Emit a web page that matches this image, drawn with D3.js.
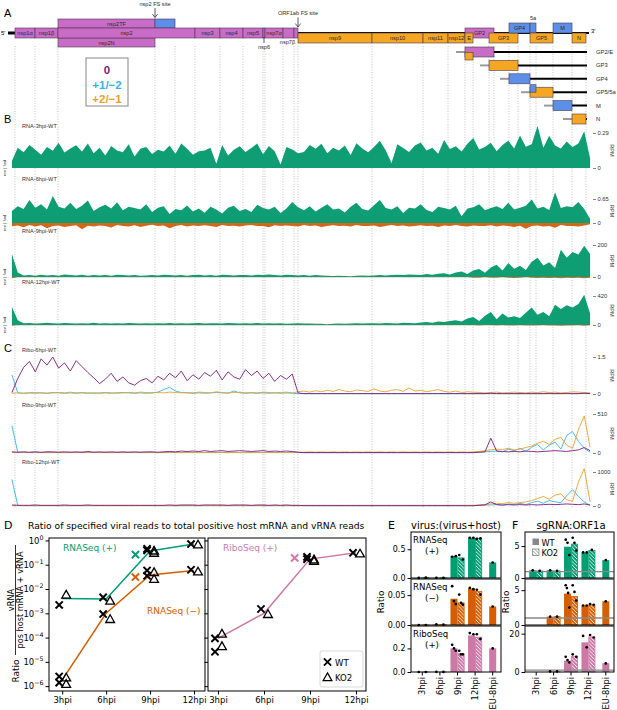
<!DOCTYPE html>
<html>
<head>
<meta charset="utf-8">
<script src="https://cdn.jsdelivr.net/npm/d3@7"></script>
<style>
  body { margin: 0; background: #fff; }
  svg { display: block; }
</style>
</head>
<body>
<svg id="fig" width="617" height="710"></svg>
<script>
const SANS = 'Liberation Sans, Arial, Helvetica, sans-serif';
const MPL = 'DejaVu Sans, sans-serif';

const GREEN = '#009E73', ORANGE = '#D55E00', PINK = '#CC79A7';
const TRACK_GREEN = '#0F9E74', TRACK_REV = '#D2661B';
const F0 = '#7B1C7E', F1 = '#38B2E6', F2 = '#EAA229';
const BOX = { 0: '#C96CC8', 1: '#5D8FE9', 2: '#F5A623' };

// ---------------- genome map data (nt) ----------------
const genomeLength = 15000;
const binSize = 150;

const orf1aNames = ['nsp1α', 'nsp1β', 'nsp2', 'nsp3', 'nsp4', 'nsp5', 'nsp6', 'nsp7α', 'nsp7β', 'nsp8'];
const orf1aStarts = [154, 668, 1258, 4777, 5419, 6010, 6524, 6575, 7038, 7320];
const orf1aEnds = [668, 1258, 4777, 5419, 6010, 6524, 6575, 7038, 7320, 7423];

const nsp2Start = 1258, nsp2FsSite = 3750, nsp2TfEnd = 4264;

const orf1bNames = ['nsp9', 'nsp10', 'nsp11', 'nsp12'];
const orf1bStarts = [7423, 9324, 10634, 11276];
const orf1bEnds = [9324, 10634, 11276, 11712];

const sorfNames = ['GP2', 'E', 'GP3', 'GP4', '5a', 'GP5', 'M', 'N'];
const sorfFrames = [0, 2, 2, 1, 1, 2, 1, 2];
const sorfStarts = [11712, 11712, 12329, 12842, 13382, 13382, 13973, 14461];
const sorfEnds = [12457, 11918, 13074, 13382, 13536, 13973, 14461, 14820];

const sgNames = ['GP2/E', 'GP3', 'GP4', 'GP5/5a', 'M', 'N'];
const sgJunctions = [11712, 12329, 12842, 13382, 13973, 14461];
const sgOrfs = [['GP2', 'E'], ['GP3'], ['GP4'], ['GP5', '5a'], ['M'], ['N']];

// ---------------- coverage (percent of labelled axis max, 150-nt bins) ----------------
const rnaLabels = ['RNA-3hpi-WT', 'RNA-6hpi-WT', 'RNA-9hpi-WT', 'RNA-12hpi-WT'];
const rnaMax = [0.29, 0.65, 200, 420];

const rna3hpiFwd = [20,58,45,66,52,38,60,49,72,44, 56,65,47,70,42,58,36,63,50,45,
  68,33,55,60,40,52,47,64,41,70, 55,38,48,50,58,12,66,36,52,62, 46,57,70,39,63,48,10,60,53,42,
  46,66,55,69,42,58,50,64,37,71, 56,45,60,78,51,14,68,57,46,64, 73,50,58,41,80,54,62,47,69,86,
  53,60,72,48,66,78,56,93,61,68, 120,58,92,64,56,76,60,70,105,28];
const rna6hpiFwd = [50,70,58,96,64,78,56,112,68,60, 84,58,72,94,50,66,76,60,86,53,
  68,62,56,78,46,64,70,38,58,53, 73,48,60,43,68,56,40,64,72,50, 58,46,76,62,56,68,42,60,88,66,
  53,70,48,64,78,56,60,44,68,84, 58,52,74,96,62,56,70,42,64,60, 78,54,46,68,62,56,72,28,60,66,
  78,53,62,70,58,84,56,64,72,98, 60,68,54,128,62,70,66,88,58,18];
const rna6hpiRev = [14,10,18,8,15,9,22,12,10,17, 13,9,26,11,15,10,13,19,8,12,
  15,9,17,11,7,13,10,22,12,8, 15,10,13,9,12,17,8,13,11,15, 10,8,13,12,18,9,13,10,12,15,
  8,13,10,17,12,9,13,11,15,8, 12,13,10,17,12,8,13,10,15,12, 9,13,11,17,10,13,8,12,15,10,
  13,12,9,15,10,13,17,11,24,13, 10,15,12,20,8,13,12,15,10,5];
const rna9hpiFwd = [72,14,5,6,4,7,5,6,4,8, 6,5,7,4,6,5,6,4,7,6,
  5,6,4,5,6,5,7,6,5,6, 4,6,7,5,6,4,7,6,5,6, 6,5,7,6,8,6,5,7,6,5,
  6,4,6,5,4,3,4,3,2,4, 5,4,5,6,5,6,7,6,8,7, 6,9,7,10,12,8,14,17,9,20,
  25,13,30,38,20,44,26,35,22,48, 60,36,46,28,85,60,78,70,98,72];
const rna9hpiRev = [4,1,1,1,1,1,1,1,1,1, 1,1,1,1,1,1,1,1,1,1,
  1,1,1,1,1,1,1,1,1,1, 1,1,1,1,1,1,1,1,1,1, 1,1,1,1,1,1,1,1,1,1,
  1,1,1,1,1,1,1,1,1,1, 1,1,1,1,1,1,1,1,1,1, 1,1,1,1,1,1,1,1,1,2,
  2,1,2,2,1,2,3,2,1,2, 3,2,3,2,4,2,3,2,4,2];
const rna12hpiFwd = [62,16,6,7,5,6,8,6,5,7, 6,5,6,5,8,5,6,5,6,5,
  7,6,5,6,5,6,5,7,5,6, 5,6,7,5,6,6,5,7,6,5, 6,5,7,5,6,5,6,4,5,6,
  5,5,4,4,3,4,5,4,5,6, 5,6,6,5,7,6,5,8,7,6, 9,10,8,12,10,14,16,12,22,28,
  14,32,45,20,40,26,30,24,42,60, 35,45,30,70,55,68,60,72,104,40];
const rna12hpiRev = [3,1,1,1,1,1,1,1,1,1, 1,1,1,1,1,1,1,1,1,1,
  1,1,1,1,1,1,1,1,1,1, 1,1,1,1,1,1,1,1,1,1, 1,1,1,1,1,1,1,1,1,1,
  1,1,1,1,1,1,1,1,1,1, 1,1,1,1,1,1,1,1,1,1, 1,1,1,1,1,1,1,1,1,1,
  2,1,1,2,1,2,2,1,2,2, 2,1,2,2,3,2,2,1,3,1];

const riboLabels = ['Ribo-6hpi-WT', 'Ribo-9hpi-WT', 'Ribo-12hpi-WT'];
const riboMax = [1.5, 510, 1000];

const ribo6Frame0 = [4,42,72,88,60,95,78,100,70,84, 62,90,74,58,44,28,40,56,34,46,
  30,24,36,42,30,48,38,56,44,62, 36,52,40,58,48,64,38,60,46,40, 66,50,62,42,56,34,50,40,54,3,
  1,1,1,1,1,1,1,1,1,1, 1,1,1,1,1,1,1,1,1,1, 1,1,1,1,1,1,1,1,1,1,
  1,1,2,1,1,1,1,1,1,1, 1,1,1,1,1,1,1,1,2,1];
const ribo6Frame1 = [52,3,2,3,2,3,2,4,3,2, 3,2,3,2,3,2,3,2,3,4,
  3,2,3,2,3,5,12,18,8,4, 3,2,3,2,3,4,3,2,8,3, 2,3,2,3,2,3,2,3,2,1,
  1,1,1,1,1,1,1,1,1,1, 1,1,1,1,1,1,1,1,1,1, 1,1,1,1,1,1,1,1,1,1,
  1,1,1,1,1,1,1,1,1,1, 1,1,2,1,1,2,1,1,2,1];
const ribo6Frame2 = [2,3,2,3,4,3,2,3,4,3, 5,3,4,3,2,3,4,3,2,3,
  4,3,5,4,3,4,3,5,4,3, 4,3,5,4,3,6,4,3,4,5, 3,4,3,5,4,3,4,5,3,6,
  8,5,9,6,10,7,12,8,6,11, 9,7,14,8,6,10,12,7,16,8, 10,6,9,12,7,5,8,4,6,5,
  4,3,4,5,3,4,5,4,3,5, 4,6,4,5,3,4,6,5,4,3];

const ribo9Frame0 = [3,2,3,2,3,2,3,3,2,3, 2,3,2,4,2,3,2,3,2,3,
  2,3,2,3,3,2,3,4,3,5, 4,5,4,6,4,5,6,4,5,6, 5,4,5,6,4,5,4,5,4,2,
  1,1,1,1,1,1,1,1,1,1, 1,1,1,1,1,1,1,1,1,1, 1,1,1,1,1,1,1,1,1,1,
  2,3,38,5,4,3,4,3,5,4, 3,4,5,6,5,4,6,8,14,6];
const ribo9Frame1 = [70,2,1,1,1,1,1,1,1,1, 1,1,1,1,1,1,1,1,1,1,
  1,1,1,1,1,1,1,1,1,1, 1,1,1,1,1,1,1,1,1,1, 1,1,1,1,1,1,1,1,1,1,
  1,1,1,1,1,1,1,1,1,1, 1,1,1,1,1,1,1,1,1,1, 1,1,1,1,1,1,1,1,1,1,
  2,3,4,5,3,10,6,12,4,15, 22,8,20,28,10,45,55,30,12,2];
const ribo9Frame2 = [2,1,2,1,2,1,2,1,2,1, 2,1,2,1,2,1,2,1,2,1,
  2,1,2,1,2,1,2,1,2,1, 2,1,2,1,2,1,2,1,2,1, 2,1,2,1,2,1,2,1,2,2,
  2,3,2,3,2,3,2,3,2,3, 2,3,2,3,2,3,2,3,2,3, 2,3,2,3,2,3,2,3,2,3,
  4,6,8,10,9,12,8,10,14,18, 25,30,22,35,40,20,12,60,95,15];

const ribo12Frame0 = [3,2,2,2,3,2,2,2,2,3, 2,2,2,3,2,2,2,2,2,2,
  2,2,2,2,2,2,2,3,2,3, 3,3,2,3,3,3,3,2,3,3, 3,2,3,3,2,3,2,3,2,2,
  1,1,1,1,1,1,1,1,1,1, 1,1,1,1,1,1,1,1,1,1, 1,1,1,1,1,1,1,1,1,1,
  2,3,12,4,3,4,3,4,3,4, 3,4,5,4,5,6,5,4,6,3];
const ribo12Frame1 = [78,2,1,1,1,1,1,1,1,1, 1,1,1,1,1,1,1,1,1,1,
  1,1,1,1,1,1,1,1,1,1, 1,1,1,1,1,1,1,1,1,1, 1,1,1,1,1,1,1,1,1,1,
  1,1,1,1,1,1,1,1,1,1, 1,1,1,1,1,1,1,1,1,1, 1,1,1,1,1,1,1,1,1,1,
  2,3,3,4,2,6,4,8,4,10, 14,8,16,12,10,30,48,28,12,2];
const ribo12Frame2 = [1,1,1,1,1,1,1,1,1,1, 1,1,1,1,1,1,1,1,1,1,
  1,1,1,1,1,1,1,1,1,1, 1,1,1,1,1,1,1,1,1,1, 1,1,1,1,1,1,1,1,1,1,
  2,2,2,2,2,2,2,2,2,2, 2,2,2,2,2,2,2,2,2,2, 2,2,2,2,2,2,2,2,2,2,
  3,5,6,8,7,10,8,10,12,16, 22,28,20,32,36,18,14,70,110,12];

// ---------------- panel D data ----------------
const hours = [3, 6, 9, 12];
const rnaPosMean = [4.1e-3, 3.9e-3, 0.37, 0.71];
const rnaNegMean = [1.8e-6, 1.0e-3, 0.038, 0.058];
const riboPosMean = [9.3e-5, 1.0e-3, 0.17, 0.31];
const rnaPosWT = [[3, 2.2e-3], [6, 4.5e-3], [9, 0.39], [9, 0.45], [12, 0.71]];
const rnaPosKO2 = [[3, 5.7e-3], [6, 3.2e-3], [9, 0.30], [9, 0.37], [12, 0.66]];
const rnaNegWT = [[3, 2.5e-6], [3, 1.4e-6], [6, 9.3e-4], [9, 0.058], [9, 0.035], [12, 0.062]];
const rnaNegKO2 = [[3, 2.2e-6], [3, 1.2e-6], [6, 5.6e-4], [9, 0.048], [9, 0.025], [12, 0.051]];
const riboPosWT = [[3, 9.3e-5], [3, 2.6e-5], [6, 1.5e-3], [9, 0.21], [9, 0.17], [12, 0.31]];
const riboPosKO2 = [[3, 1.4e-4], [3, 4.3e-5], [6, 9.0e-4], [9, 0.14], [9, 0.16], [12, 0.28]];
const euHour = 8;
const euRnaPos = 0.26, euRnaNeg = 0.031, euRiboPos = 0.19;

// ---------------- panels E, F data ----------------
const efCategories = ['3hpi', '6hpi', '9hpi', '12hpi', 'EU-8hpi'];

const eRnaPosWT = [0.002, 0.004, 0.38, 0.70, 0.27];
const eRnaPosKO2 = [0.005, 0.003, 0.35, 0.69, null];
const eRnaPosWTReps = [[0.002], [0.004], [0.37, 0.38], [0.70, 0.70], [0.27]];
const eRnaPosKO2Reps = [[0.005], [0.003], [0.40, 0.32], [0.68, 0.69], []];
const eRnaNegWT = [0.000002, 0.0009, 0.044, 0.061, 0.031];
const eRnaNegKO2 = [0.000002, 0.0006, 0.037, 0.056, null];
const eRnaNegWTReps = [[0.000002], [0.0009], [0.065, 0.040, 0.035], [0.062, 0.060], [0.031]];
const eRnaNegKO2Reps = [[0.000002], [0.0006], [0.051, 0.037, 0.034], [0.059, 0.051], []];
const eRiboPosWT = [0.0001, 0.0015, 0.20, 0.31, 0.20];
const eRiboPosKO2 = [0.0001, 0.0009, 0.155, 0.295, null];
const eRiboPosWTReps = [[0.0001], [0.0015], [0.23, 0.20, 0.18], [0.33, 0.32], [0.20]];
const eRiboPosKO2Reps = [[0.0001], [0.0009], [0.18, 0.15, 0.15], [0.32, 0.28], []];

const fRnaPosWT = [1.2, 1.2, 4.9, 4.0, 2.8];
const fRnaPosKO2 = [1.1, 1.1, 5.3, 4.3, null];
const fRnaPosWTReps = [[1.2], [1.2], [6.0, 5.5, 3.6], [4.0, 4.0], [2.8]];
const fRnaPosKO2Reps = [[1.1], [1.1], [6.3, 5.5, 4.3], [4.4], []];
const fRnaNegWT = [null, 1.2, 4.5, 2.8, 3.4];
const fRnaNegKO2 = [null, 1.2, 4.1, 2.9, null];
const fRnaNegWTReps = [[], [1.2], [5.7, 5.3, 4.6, 2.5], [2.8, 2.8], [3.4]];
const fRnaNegKO2Reps = [[], [1.2], [5.7, 4.75, 3.5], [3.0, 2.9], []];
const fRiboPosWT = [null, 0.2, 5.9, 15.5, 4.6];
const fRiboPosKO2 = [null, 0.2, 8.2, 18.3, null];
const fRiboPosWTReps = [[], [0.3], [7.9, 6.2, 5.0], [18.8, 12.9], [4.5]];
const fRiboPosKO2Reps = [[], [0.3], [9.2, 7.9], [19.3, 18.0], []];

// =====================================================================
const svg = d3.select('#fig');
const defs = svg.append('defs');

function label(x, y, text, size, opts = {}) {
  return svg.append('text')
    .attr('x', x).attr('y', y)
    .attr('font-family', opts.family || SANS)
    .attr('font-size', size)
    .attr('fill', opts.fill || '#000')
    .attr('font-weight', opts.weight || null)
    .attr('text-anchor', opts.anchor || 'start')
    .text(text);
}

const gx = d3.scaleLinear().domain([0, genomeLength]).range([9, 593]);
const binX = (i) => gx((i + 0.5) * binSize);

// ---------------- dotted guide lines ----------------
const guides = Array.from(new Set([
  ...orf1aStarts, ...orf1aEnds, nsp2FsSite, nsp2TfEnd,
  ...orf1bEnds, ...sorfStarts, ...sorfEnds,
]));
svg.append('g')
  .selectAll('line')
  .data(guides)
  .join('line')
  .attr('x1', (d) => gx(d)).attr('x2', (d) => gx(d))
  .attr('y1', 46).attr('y2', 508)
  .attr('stroke', '#9a9a9a')
  .attr('stroke-width', 0.6)
  .attr('stroke-dasharray', '1,1.6');

// ---------------- panel A ----------------
label(4, 17, 'A', 11);

const rowTop = { 0: 28, 1: 23, 2: 33 };
const mapG = svg.append('g');

mapG.append('line').attr('x1', gx(154)).attr('x2', 589).attr('y1', 33).attr('y2', 33)
  .attr('stroke', '#000').attr('stroke-width', 1.8);
mapG.append('rect').attr('x', 8).attr('y', 31.5).attr('width', gx(154) - 8).attr('height', 3).attr('fill', '#000');
label(1, 35, "5'", 6);
label(591, 33, "3'", 6);

function mapBox(start, end, y, h, fill, name, ty) {
  mapG.append('rect')
    .attr('x', gx(start)).attr('y', y)
    .attr('width', gx(end) - gx(start)).attr('height', h)
    .attr('fill', fill).attr('stroke', '#4a3a4a').attr('stroke-width', 0.6);
  if (name) {
    mapG.append('text')
      .attr('x', (gx(start) + gx(end)) / 2).attr('y', ty ?? y + h / 2 + 2)
      .attr('text-anchor', 'middle').attr('font-family', SANS).attr('font-size', 5.6)
      .attr('fill', '#2a2a2a').text(name);
  }
}

// nsp2TF / nsp2N
mapBox(nsp2Start, nsp2FsSite, 19, 9, BOX[0], null);
mapBox(nsp2FsSite, nsp2TfEnd, 19, 9, BOX[1], null);
mapG.append('text').attr('x', (gx(nsp2Start) + gx(nsp2TfEnd)) / 2).attr('y', 25.5)
  .attr('text-anchor', 'middle').attr('font-family', SANS).attr('font-size', 5.6).attr('fill', '#2a2a2a').text('nsp2TF');
mapBox(nsp2Start, nsp2FsSite, 38, 9, BOX[0], 'nsp2N');

orf1aNames.forEach((n, i) => {
  const below = n === 'nsp6' || n === 'nsp7β';
  const hide = n === 'nsp8';
  mapBox(orf1aStarts[i], orf1aEnds[i], 28, 10, BOX[0], hide || below ? null : n);
});
// labels hanging below the row
{
  const x6 = (gx(orf1aStarts[6]) + gx(orf1aEnds[6])) / 2;
  mapG.append('line').attr('x1', x6).attr('x2', x6).attr('y1', 37).attr('y2', 43).attr('stroke', '#333').attr('stroke-width', 0.8);
  mapG.append('text').attr('x', x6).attr('y', 49).attr('text-anchor', 'middle')
    .attr('font-family', SANS).attr('font-size', 5.6).attr('fill', '#2a2a2a').text('nsp6');
  const x7 = (gx(orf1aStarts[8]) + gx(orf1aEnds[8])) / 2;
  mapG.append('text').attr('x', x7 - 1).attr('y', 44).attr('text-anchor', 'middle')
    .attr('font-family', SANS).attr('font-size', 5.6).attr('fill', '#2a2a2a').text('nsp7β');
}

orf1bNames.forEach((n, i) => mapBox(orf1bStarts[i], orf1bEnds[i], rowTop[2], 10, BOX[2], n));

sorfNames.forEach((n, i) => {
  const f = sorfFrames[i];
  mapBox(sorfStarts[i], sorfEnds[i], rowTop[f], 10, BOX[f], n === '5a' ? null : n);
});
label((gx(sorfStarts[4]) + gx(sorfEnds[4])) / 2, 20, '5a', 5.6, { anchor: 'middle', fill: '#2a2a2a' });

// frameshift arrows
function fsArrow(x, yText, y0, y1, text) {
  label(x, yText, text, 5.6, { anchor: 'middle', fill: '#2a2a2a' });
  mapG.append('path')
    .attr('d', `M${x},${y0}L${x},${y1}M${x - 2.6},${y1 - 3.4}L${x},${y1}L${x + 2.6},${y1 - 3.4}`)
    .attr('fill', 'none').attr('stroke', '#333').attr('stroke-width', 0.8);
}
fsArrow(gx(nsp2FsSite), 6, 8, 17.5, 'nsp2 FS site');
fsArrow(gx(orf1bStarts[0]), 15, 17.5, 27, 'ORF1ab FS site');

// frame legend
svg.append('rect').attr('x', 86).attr('y', 58).attr('width', 42).attr('height', 48)
  .attr('fill', '#fff').attr('stroke', '#9a9a9a').attr('stroke-width', 1.2);
label(107, 74, '0', 11.5, { anchor: 'middle', fill: F0, weight: 'bold' });
label(107, 88.5, '+1/−2', 11.5, { anchor: 'middle', fill: F1, weight: 'bold' });
label(107, 103, '+2/−1', 11.5, { anchor: 'middle', fill: F2, weight: 'bold' });

// sgRNA rows
const sgG = svg.append('g');
sgNames.forEach((name, r) => {
  const y = 52 + r * 13.4;
  const j = sgJunctions[r];
  sgG.append('line').attr('x1', gx(j) - 9).attr('x2', gx(j)).attr('y1', y).attr('y2', y)
    .attr('stroke', '#9a9a9a').attr('stroke-width', 2);
  sgG.append('line').attr('x1', gx(j)).attr('x2', 587).attr('y1', y).attr('y2', y)
    .attr('stroke', '#000').attr('stroke-width', 2);
  sgOrfs[r].forEach((o, k) => {
    const i = sorfNames.indexOf(o);
    const f = sorfFrames[i];
    const h = k === 0 ? 10 : 7.5;
    const top = k === 0 ? y - 5 : (f === 1 ? y - 7.5 : y + 0.5);
    sgG.append('rect').attr('x', gx(sorfStarts[i])).attr('y', top)
      .attr('width', gx(sorfEnds[i]) - gx(sorfStarts[i])).attr('height', h)
      .attr('fill', BOX[f]).attr('stroke', '#4a3a4a').attr('stroke-width', 0.6);
  });
  label(596, y + 2, name, 5.8, { fill: '#2a2a2a' });
});

// ---------------- panel B: RNA coverage ----------------
label(4, 123, 'B', 11);
const rnaFwd = [rna3hpiFwd, rna6hpiFwd, rna9hpiFwd, rna12hpiFwd];
const rnaRev = [null, rna6hpiRev, rna9hpiRev, rna12hpiRev];
const rnaTop = [133, 199, 245, 296];
const rnaZero = [168, 223, 277, 325];
const rnaLabelY = [128, 181, 233, 284];

function trackAxis(y, max, zero, top) {
  const ax = svg.append('g').attr('transform', 'translate(593,0)')
    .call(d3.axisRight(y).tickValues([0, max]).tickSize(3).tickPadding(1.5).tickFormat(d3.format('~g')));
  ax.select('.domain').remove();
  ax.attr('font-family', SANS).attr('font-size', 5.8);
  ax.selectAll('line').attr('stroke', '#333').attr('stroke-width', 0.6);
  ax.selectAll('text').attr('fill', '#333');
  svg.append('text').attr('transform', `translate(610,${(zero + top) / 2}) rotate(90)`)
    .attr('text-anchor', 'middle').attr('font-family', SANS).attr('font-size', 5.6)
    .attr('fill', '#333').text('RPM');
}

rnaFwd.forEach((vals, k) => {
  const y = d3.scaleLinear().domain([0, rnaMax[k]]).range([rnaZero[k], rnaTop[k]]);
  const v = (p) => (p * rnaMax[k]) / 100;
  svg.append('path')
    .attr('d', d3.area().x((d, i) => binX(i)).y0(y(0)).y1((d) => y(v(d)))(vals))
    .attr('fill', TRACK_GREEN);
  if (rnaRev[k]) {
    svg.append('path')
      .attr('d', d3.area().x((d, i) => binX(i)).y0(y(0)).y1((d) => y(-v(d)))(rnaRev[k]))
      .attr('fill', TRACK_REV);
  }
  trackAxis(y, rnaMax[k], rnaZero[k], rnaTop[k]);
  label(22, rnaLabelY[k], rnaLabels[k], 5.6, { fill: '#333' });
  svg.append('text').attr('transform', `translate(5.5,${rnaZero[k]}) rotate(-90)`)
    .attr('text-anchor', 'middle').attr('font-family', SANS).attr('font-size', 4.4)
    .attr('fill', '#333').text('rev | fwd');
});

// ---------------- panel C: Ribo coverage ----------------
label(4, 352, 'C', 11);
const riboFrames = [
  [ribo6Frame0, ribo6Frame1, ribo6Frame2],
  [ribo9Frame0, ribo9Frame1, ribo9Frame2],
  [ribo12Frame0, ribo12Frame1, ribo12Frame2],
];
const riboTop = [357, 414, 472];
const riboZero = [394, 453, 506];
const riboLabelY = [352, 407, 464];
const frameColors = [F0, F1, F2];

riboFrames.forEach((frames, k) => {
  const y = d3.scaleLinear().domain([0, riboMax[k]]).range([riboZero[k], riboTop[k]]);
  const v = (p) => (p * riboMax[k]) / 100;
  [1, 2, 0].forEach((f) => {
    svg.append('path')
      .attr('d', d3.line().x((d, i) => binX(i)).y((d) => y(v(d)))(frames[f]))
      .attr('fill', 'none').attr('stroke', frameColors[f]).attr('stroke-width', 0.9);
  });
  trackAxis(y, riboMax[k], riboZero[k], riboTop[k]);
  label(22, riboLabelY[k], riboLabels[k], 5.6, { fill: '#333' });
});

// ---------------- panel D ----------------
label(4, 529, 'D', 11, { family: MPL });
label(28, 529, 'Ratio of specified viral reads to total positive host mRNA and vRNA reads', 9.2, { family: MPL });

const dy = d3.scaleLog().domain([Math.pow(10, -6.2), Math.pow(10, 0.1)]).range([691, 538]);
const dxL = d3.scaleLinear().domain([2.1, 12.75]).range([49, 205]);
const dxR = d3.scaleLinear().domain([2.35, 12.65]).range([208, 366]);
const decades = [1, 1e-1, 1e-2, 1e-3, 1e-4, 1e-5, 1e-6];
const crossPath = 'M-3.6,-3.6L3.6,3.6M-3.6,3.6L3.6,-3.6';
const triPath = 'M0,-4.6L4.4,3.1L-4.4,3.1Z';

function dAxes(xs, showLabels) {
  const x0 = xs.range()[0], x1 = xs.range()[1];
  const ya = svg.append('g').attr('transform', `translate(${x0},0)`)
    .call(d3.axisLeft(dy).tickValues(decades).tickSize(3.5).tickPadding(2));
  ya.select('.domain').remove();
  ya.selectAll('text').each(function (d) {
    const t = d3.select(this);
    t.text('');
    if (!showLabels) return;
    const e = Math.round(Math.log10(d));
    t.append('tspan').text('10');
    t.append('tspan').attr('dy', -4).attr('font-size', 6.3).text(e === 0 ? '0' : '−' + Math.abs(e));
  });
  ya.attr('font-family', MPL).attr('font-size', 8.5);
  const xa = svg.append('g').attr('transform', 'translate(0,691)')
    .call(d3.axisBottom(xs).tickValues(hours).tickSize(3.5).tickPadding(2).tickFormat((d) => d + 'hpi'));
  xa.select('.domain').remove();
  xa.attr('font-family', MPL).attr('font-size', 8.5);
  svg.append('rect').attr('x', x0).attr('y', 538).attr('width', x1 - x0).attr('height', 153)
    .attr('fill', 'none').attr('stroke', '#000').attr('stroke-width', 1);
}

function dSeries(xs, mean, wt, ko, color, eu) {
  svg.append('path')
    .attr('d', d3.line().x((d, i) => xs(hours[i])).y((d) => dy(d))(mean))
    .attr('fill', 'none').attr('stroke', color).attr('stroke-width', 1.5);
  svg.append('path').attr('d', crossPath)
    .attr('transform', `translate(${xs(euHour)},${dy(eu)})`)
    .attr('stroke', color).attr('stroke-width', 2).attr('fill', 'none');
  wt.forEach(([h, val]) => svg.append('path').attr('d', crossPath)
    .attr('transform', `translate(${xs(h) - 3},${dy(val)})`)
    .attr('stroke', '#000').attr('stroke-width', 2).attr('fill', 'none'));
  ko.forEach(([h, val]) => svg.append('path').attr('d', triPath)
    .attr('transform', `translate(${xs(h) + 4},${dy(val)})`)
    .attr('stroke', '#000').attr('stroke-width', 1.3).attr('fill', 'none'));
}

dAxes(dxL, true);
dAxes(dxR, false);
dSeries(dxL, rnaPosMean, rnaPosWT, rnaPosKO2, GREEN, euRnaPos);
dSeries(dxL, rnaNegMean, rnaNegWT, rnaNegKO2, ORANGE, euRnaNeg);
dSeries(dxR, riboPosMean, riboPosWT, riboPosKO2, PINK, euRiboPos);
label(63, 551, 'RNASeq (+)', 9, { family: MPL, fill: GREEN });
label(147, 614, 'RNASeq (−)', 9, { family: MPL, fill: ORANGE });
label(223, 551, 'RiboSeq (+)', 9, { family: MPL, fill: PINK });

// legend
svg.append('rect').attr('x', 320).attr('y', 651).attr('width', 43).attr('height', 36).attr('rx', 2)
  .attr('fill', '#fff').attr('stroke', '#cfcfcf').attr('stroke-width', 0.8);
svg.append('path').attr('d', crossPath).attr('transform', 'translate(327.5,662)')
  .attr('stroke', '#000').attr('stroke-width', 1.8).attr('fill', 'none');
label(335, 665.5, 'WT', 8.5, { family: MPL });
svg.append('path').attr('d', triPath).attr('transform', 'translate(327.5,677.5)')
  .attr('stroke', '#000').attr('stroke-width', 1.2).attr('fill', 'none');
label(335, 681, 'KO2', 8.5, { family: MPL });

// y label with fraction
{
  const g = svg.append('g').attr('transform', 'translate(16,0) rotate(-90)')
    .attr('font-family', MPL).attr('fill', '#000');
  g.append('text').attr('x', -671).attr('y', 3).attr('text-anchor', 'middle').attr('font-size', 9).text('Ratio');
  g.append('line').attr('x1', -655).attr('x2', -545).attr('y1', -0.5).attr('y2', -0.5)
    .attr('stroke', '#000').attr('stroke-width', 0.8);
  g.append('text').attr('x', -600).attr('y', -2.5).attr('text-anchor', 'middle').attr('font-size', 8.2).text('vRNA');
  g.append('text').attr('x', -600).attr('y', 7).attr('text-anchor', 'middle').attr('font-size', 8.2).text('pos host mRNA + vRNA');
}

// ---------------- panels E and F ----------------
function hatch(id, bg, fg) {
  const s = 3.6;
  const p = defs.append('pattern').attr('id', id).attr('patternUnits', 'userSpaceOnUse')
    .attr('width', s).attr('height', s);
  p.append('rect').attr('width', s).attr('height', s).attr('fill', bg);
  p.append('path').attr('d', `M${-s},0L0,${s}M0,0L${s},${s}M${s},0L${2 * s},${s}`)
    .attr('stroke', fg).attr('stroke-width', 0.9);
}
hatch('h-green', GREEN, '#fff');
hatch('h-orange', ORANGE, '#fff');
hatch('h-pink', PINK, '#fff');
hatch('h-legend', '#fff', '#888');
const hatchId = { [GREEN]: 'h-green', [ORANGE]: 'h-orange', [PINK]: 'h-pink' };

const efRows = [[532, 578], [579, 625], [626, 672]];

function barBox(o) {
  const [top, bottom] = efRows[o.row];
  const xb = d3.scaleBand().domain(efCategories).range([o.x0 + 2.5, o.x1 + 0.5]);
  const y = d3.scaleLinear().domain([0, o.max]).range([bottom, top]);
  const bw = xb.step() * 0.4;
  const cx = (c) => xb(c) + xb.step() / 2;
  const g = svg.append('g');

  efCategories.forEach((c, i) => {
    const w = o.wt[i], k = o.ko[i];
    const paired = k != null;
    const xw = paired ? cx(c) - bw : cx(c) - bw / 2;
    if (w != null) {
      g.append('rect').attr('x', xw).attr('y', y(w)).attr('width', bw).attr('height', y(0) - y(w)).attr('fill', o.color);
    }
    if (paired) {
      g.append('rect').attr('x', cx(c) + 0.4).attr('y', y(k)).attr('width', bw - 0.8).attr('height', y(0) - y(k))
        .attr('fill', `url(#${hatchId[o.color]})`).attr('stroke', o.color).attr('stroke-width', 0.8);
    }
  });
  if (o.refOne) {
    g.append('line').attr('x1', o.x0).attr('x2', o.x1).attr('y1', y(1)).attr('y2', y(1))
      .attr('stroke', '#888').attr('stroke-width', 1.4);
  }
  const dots = (reps, center) => reps.forEach((val, j) => {
    const off = reps.length === 1 ? 0 : -1.8 + (3.6 * j) / (reps.length - 1);
    g.append('circle').attr('cx', center + off).attr('cy', y(val)).attr('r', 1.35).attr('fill', '#000');
  });
  efCategories.forEach((c, i) => {
    const paired = o.ko[i] != null;
    dots(o.wtReps[i], paired ? cx(c) - bw / 2 : cx(c));
    if (paired) dots(o.koReps[i], cx(c) + bw / 2);
  });

  const ya = svg.append('g').attr('transform', `translate(${o.x0},0)`)
    .call(d3.axisLeft(y).tickValues(o.ticks).tickSize(3.5).tickPadding(2).tickFormat(o.fmt));
  ya.select('.domain').remove();
  ya.attr('font-family', MPL).attr('font-size', 8);

  if (o.row === 2) {
    const xa = svg.append('g').attr('transform', `translate(0,${bottom})`)
      .call(d3.axisBottom(xb).tickSize(3.5).tickFormat(''));
    xa.select('.domain').remove();
    efCategories.forEach((c) => {
      svg.append('text').attr('transform', `translate(${cx(c) + 3},${bottom + 5}) rotate(-90)`)
        .attr('text-anchor', 'end').attr('font-family', MPL).attr('font-size', 8.3).text(c);
    });
  }
  if (o.note) {
    label(o.x0 + 2, top + 11, o.note[0], 8.6, { family: MPL });
    label(o.x0 + 21, top + 21.5, o.note[1], 8.6, { family: MPL, anchor: 'middle' });
  }
  svg.append('rect').attr('x', o.x0).attr('y', top).attr('width', o.x1 - o.x0).attr('height', bottom - top)
    .attr('fill', 'none').attr('stroke', '#000').attr('stroke-width', 1);
}

const E0 = 411, E1 = 501, FX0 = 525, FX1 = 614;
label(388, 529, 'E', 11, { family: MPL });
label(456, 529, 'virus:(virus+host)', 10, { family: MPL, anchor: 'middle' });
barBox({ row: 0, x0: E0, x1: E1, max: 0.8, ticks: [0, 0.5], fmt: d3.format('.1f'), color: GREEN,
  wt: eRnaPosWT, ko: eRnaPosKO2, wtReps: eRnaPosWTReps, koReps: eRnaPosKO2Reps, note: ['RNASeq', '(+)'] });
barBox({ row: 1, x0: E0, x1: E1, max: 0.077, ticks: [0, 0.05], fmt: d3.format('.2f'), color: ORANGE,
  wt: eRnaNegWT, ko: eRnaNegKO2, wtReps: eRnaNegWTReps, koReps: eRnaNegKO2Reps, note: ['RNASeq', '(−)'] });
barBox({ row: 2, x0: E0, x1: E1, max: 0.39, ticks: [0, 0.2], fmt: d3.format('.1f'), color: PINK,
  wt: eRiboPosWT, ko: eRiboPosKO2, wtReps: eRiboPosWTReps, koReps: eRiboPosKO2Reps, note: ['RiboSeq', '(+)'] });
svg.append('text').attr('transform', 'translate(384,602) rotate(-90)').attr('text-anchor', 'middle')
  .attr('font-family', MPL).attr('font-size', 8.8).text('Ratio');

label(512, 529, 'F', 11, { family: MPL });
label(571, 529, 'sgRNA:ORF1a', 10, { family: MPL, anchor: 'middle' });
barBox({ row: 0, x0: FX0, x1: FX1, max: 7.2, ticks: [0, 5], fmt: d3.format('d'), color: GREEN, refOne: true,
  wt: fRnaPosWT, ko: fRnaPosKO2, wtReps: fRnaPosWTReps, koReps: fRnaPosKO2Reps });
barBox({ row: 1, x0: FX0, x1: FX1, max: 6.6, ticks: [0, 5], fmt: d3.format('d'), color: ORANGE, refOne: true,
  wt: fRnaNegWT, ko: fRnaNegKO2, wtReps: fRnaNegWTReps, koReps: fRnaNegKO2Reps });
barBox({ row: 2, x0: FX0, x1: FX1, max: 24, ticks: [0, 20], fmt: d3.format('d'), color: PINK, refOne: true,
  wt: fRiboPosWT, ko: fRiboPosKO2, wtReps: fRiboPosWTReps, koReps: fRiboPosKO2Reps });
svg.append('text').attr('transform', 'translate(509,602) rotate(-90)').attr('text-anchor', 'middle')
  .attr('font-family', MPL).attr('font-size', 8.8).text('Ratio');

// F legend
svg.append('rect').attr('x', 532.5).attr('y', 538.5).attr('width', 6.5).attr('height', 6.5).attr('fill', '#888');
label(541.5, 545.5, 'WT', 8.2, { family: MPL });
svg.append('rect').attr('x', 532.5).attr('y', 549).attr('width', 6.5).attr('height', 6.5)
  .attr('fill', 'url(#h-legend)').attr('stroke', '#888').attr('stroke-width', 0.8);
label(541.5, 556, 'KO2', 8.2, { family: MPL });
</script>
</body>
</html>
